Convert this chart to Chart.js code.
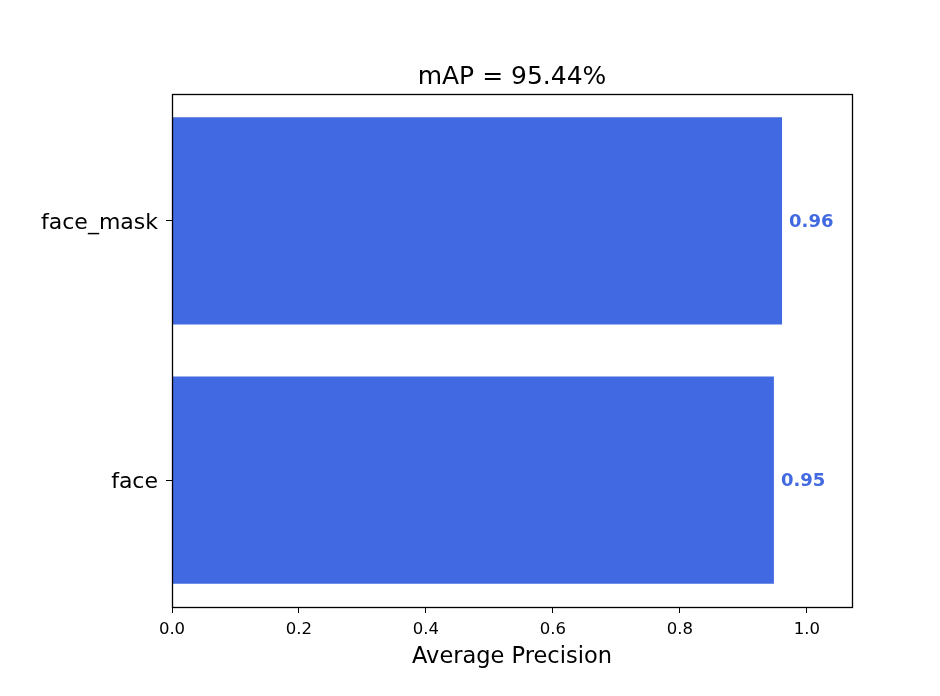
<!DOCTYPE html>
<html>
<head>
<meta charset="utf-8">
<script src="https://cdn.jsdelivr.net/npm/chart.js@4/dist/chart.umd.min.js"></script>
<style>
  html, body { margin: 0; padding: 0; background: #ffffff; }
  #wrap { width: 940px; height: 696px; }
</style>
</head>
<body>
<div id="wrap"><canvas id="c" width="940" height="696"></canvas></div>
<script>
const categories = ['face', 'face_mask'];
const apValues = [0.948, 0.9608];
const xTickValues = [0.0, 0.2, 0.4, 0.6, 0.8, 1.0];
const xTickLabels = ['0.0', '0.2', '0.4', '0.6', '0.8', '1.0'];
const chartTitle = 'mAP = 95.44%';
const xAxisTitle = 'Average Precision';

const FONT = '"DejaVu Sans", sans-serif';
const BLUE = '#4169E1';

const points = categories.map((c, i) => ({ x: apValues[i], y: i }));

const boxPlugin = {
  id: 'boxAndLabels',
  afterDatasetsDraw(chart) {
    const ctx = chart.ctx;
    const meta = chart.getDatasetMeta(0);
    ctx.save();
    ctx.font = 'bold 18px ' + FONT;
    ctx.fillStyle = BLUE;
    ctx.textAlign = 'left';
    ctx.textBaseline = 'middle';
    meta.data.forEach((el, i) => {
      ctx.fillText(apValues[i].toFixed(2), el.x + 7, el.y + 1);
    });
    ctx.restore();
  },
  afterDraw(chart) {
    const a = chart.chartArea;
    const ctx = chart.ctx;
    ctx.save();
    ctx.strokeStyle = '#000';
    ctx.lineWidth = 1.3;
    ctx.strokeRect(Math.round(a.left) + 0.5, Math.round(a.top) + 0.5,
                   Math.round(a.right - a.left), Math.round(a.bottom - a.top));
    ctx.font = '25px ' + FONT;
    ctx.fillStyle = '#000';
    ctx.textAlign = 'center';
    ctx.textBaseline = 'alphabetic';
    ctx.fillText(chartTitle, (a.left + a.right) / 2, 84);
    ctx.restore();
  }
};

new Chart(document.getElementById('c'), {
  type: 'bar',
  data: {
    datasets: [{
      data: points,
      backgroundColor: BLUE,
      borderWidth: 0,
      barPercentage: 0.8,
      categoryPercentage: 1.0
    }]
  },
  options: {
    indexAxis: 'y',
    responsive: false,
    animation: false,
    devicePixelRatio: 1,
    layout: { padding: { left: 0, right: 88, top: 94, bottom: 0 } },
    plugins: {
      legend: { display: false },
      tooltip: { enabled: false },
      title: { display: false }
    },
    scales: {
      x: {
        type: 'linear',
        min: 0,
        max: 1.071,
        afterBuildTicks(scale) {
          scale.ticks = xTickValues.map(v => ({ value: v }));
        },
        afterFit(scale) { scale.height = 89; },
        ticks: {
          includeBounds: false,
          color: '#000',
          font: { family: FONT, size: 16.5 },
          padding: 7,
          maxRotation: 0,
          callback: (v, i) => xTickLabels[i]
        },
        grid: { drawOnChartArea: false, drawTicks: true, tickLength: 6, color: '#000', lineWidth: 1 },
        border: { display: true, color: '#000', width: 1 },
        title: {
          display: true,
          text: xAxisTitle,
          color: '#000',
          font: { family: FONT, size: 22.5, lineHeight: 1.2 },
          padding: { top: 0, bottom: 25.5 }
        }
      },
      y: {
        type: 'linear',
        min: -0.49,
        max: 1.49,
        offset: false,
        afterBuildTicks(scale) {
          scale.ticks = categories.map((c, i) => ({ value: i }));
        },
        afterFit(scale) { scale.width = 172; },
        ticks: {
          includeBounds: false,
          color: '#000',
          font: { family: FONT, size: 22 },
          padding: 8,
          labelOffset: 2,
          callback: (v) => categories[v]
        },
        grid: { drawOnChartArea: false, drawTicks: true, tickLength: 6, color: '#000', lineWidth: 1, offset: false },
        border: { display: true, color: '#000', width: 1 }
      }
    }
  },
  plugins: [boxPlugin]
});
</script>
</body>
</html>
